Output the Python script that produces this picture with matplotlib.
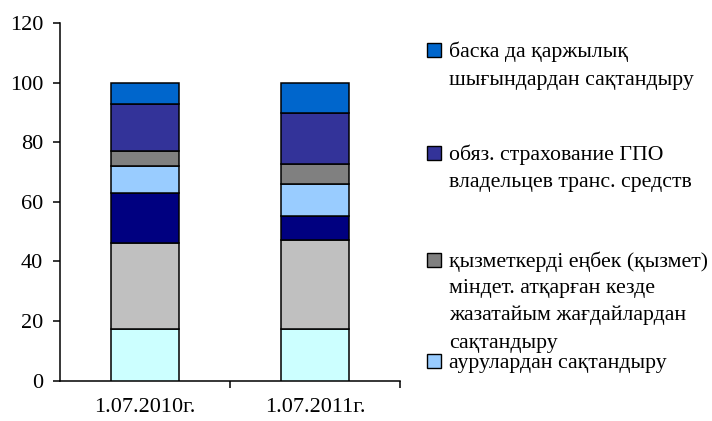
import matplotlib
matplotlib.use("Agg")
import matplotlib.pyplot as plt
from matplotlib.patches import Rectangle
import numpy as np

plt.rcParams['font.family'] = ['Liberation Serif', 'DejaVu Serif']

categories = ["1.07.2010г.", "1.07.2011г."]

# stacked segments, bottom to top (values in %)
seg1 = [17.2, 17.2]   # light cyan (legend entry not visible)
seg2 = [28.9, 30.0]   # silver (legend entry not visible)
seg3 = [16.8, 8.2]    # navy (legend entry not visible)
seg4 = [9.2, 10.6]    # аурулардан сақтандыру
seg5 = [4.9, 6.7]     # қызметкерді еңбек ...
seg6 = [15.9, 17.0]   # обяз. страхование ГПО ...
seg7 = [7.1, 10.3]    # баска да қаржылық ...

series = [seg1, seg2, seg3, seg4, seg5, seg6, seg7]
colors = ["#CCFFFF", "#C0C0C0", "#000080", "#99CCFF", "#808080", "#333399", "#0066CC"]

legend_labels = [
    "баска да қаржылық\nшығындардан сақтандыру",
    "обяз. страхование ГПО\nвладельцев транс. средств",
    "қызметкерді еңбек (қызмет)\nміндет. атқарған кезде\nжазатайым жағдайлардан\nсақтандыру",
    "аурулардан сақтандыру",
]
legend_colors = [colors[6], colors[5], colors[4], colors[3]]

yticks = [0, 20, 40, 60, 80, 100, 120]

W, H = 712, 421
fig = plt.figure(figsize=(W / 100, H / 100), dpi=100)
ax = fig.add_axes([60 / W, (H - 380.7) / H, 340 / W, 357.7 / H])

x = np.arange(len(categories))
bottom = np.zeros(len(categories))
for vals, c in zip(series, colors):
    ax.bar(x, vals, bottom=bottom, width=0.4, color=c, edgecolor="black", linewidth=1.1, zorder=3)
    bottom += np.array(vals)

ax.set_xlim(-0.5, 1.5)
ax.set_ylim(0, 120)
ax.set_yticks(yticks)
ax.set_yticklabels([str(v) for v in yticks], fontsize=16)
ax.set_xticks(x)
ax.set_xticklabels(categories, fontsize=16)
ax.set_xticks([0.5, 1.5], minor=True)
ax.tick_params(axis='x', which='major', length=0, pad=12.5)
ax.tick_params(axis='x', which='minor', length=5, width=1.1, direction='out')
ax.tick_params(axis='y', which='major', length=5, width=1.1, direction='out', pad=7)
for s in ["top", "right"]:
    ax.spines[s].set_visible(False)
for s in ["left", "bottom"]:
    ax.spines[s].set_linewidth(1.1)

# manual legend (positions in pixels from top-left)
baselines = [57, 160, 267, 368]
line_gaps = [[0, 28], [0, 27], [0, 26, 53, 81], [0]]
for lab, c, yb, gaps in zip(legend_labels, legend_colors, baselines, line_gaps):
    sq = 14
    yc = yb - 7
    fig.patches.append(Rectangle((427 / W, (H - yc - sq / 2) / H), sq / W, sq / H,
                                 transform=fig.transFigure, facecolor=c,
                                 edgecolor="black", linewidth=1.0))
    for line, g in zip(lab.split("\n"), gaps):
        fig.text(449 / W, (H - (yb + g)) / H, line, fontsize=15.7,
                 ha="left", va="baseline")

fig.savefig("out.png", dpi=100)
